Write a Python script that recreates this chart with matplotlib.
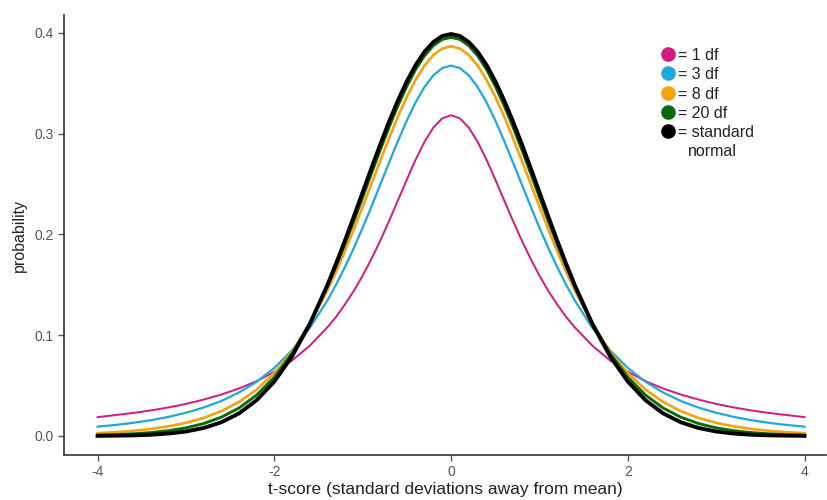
import matplotlib
matplotlib.use("Agg")
import matplotlib.pyplot as plt

plt.rcParams['axes.unicode_minus'] = False
plt.rcParams['font.family'] = ['Liberation Sans', 'DejaVu Sans']

x = [-4.0, -3.8, -3.6, -3.4, -3.2, -3.0, -2.8, -2.6, -2.4, -2.2, -2.0, -1.8, -1.6, -1.4,
     -1.3, -1.2, -1.1, -1.0, -0.9, -0.8, -0.7, -0.6, -0.5, -0.4, -0.3, -0.2, -0.1, 0.0,
     0.1, 0.2, 0.3, 0.4, 0.5, 0.6, 0.7, 0.8, 0.9, 1.0, 1.1, 1.2, 1.3,
     1.4, 1.6, 1.8, 2.0, 2.2, 2.4, 2.6, 2.8, 3.0, 3.2, 3.4, 3.6, 3.8, 4.0]

df1 = [0.0187, 0.0207, 0.0228, 0.0253, 0.0283, 0.0318, 0.0361, 0.0411, 0.0471, 0.0544, 0.0637, 0.0749, 0.0895, 0.1078,
       0.1183, 0.1307, 0.1440, 0.1592, 0.1759, 0.1941, 0.2136, 0.2341, 0.2546, 0.2744, 0.2920, 0.3061, 0.3152, 0.3183,
       0.3152, 0.3061, 0.2920, 0.2744, 0.2546, 0.2341, 0.2136, 0.1941, 0.1759, 0.1592, 0.1440, 0.1307, 0.1183,
       0.1078, 0.0895, 0.0749, 0.0637, 0.0544, 0.0471, 0.0411, 0.0361, 0.0318, 0.0283, 0.0253, 0.0228, 0.0207, 0.0187]
df3 = [0.0092, 0.0109, 0.0130, 0.0156, 0.0189, 0.0230, 0.0282, 0.0347, 0.0431, 0.0538, 0.0675, 0.0850, 0.1070, 0.1345,
       0.1504, 0.1678, 0.1866, 0.2067, 0.2279, 0.2497, 0.2716, 0.2930, 0.3132, 0.3313, 0.3465, 0.3579, 0.3651, 0.3676,
       0.3651, 0.3579, 0.3465, 0.3313, 0.3132, 0.2930, 0.2716, 0.2497, 0.2279, 0.2067, 0.1866, 0.1678, 0.1504,
       0.1345, 0.1070, 0.0850, 0.0675, 0.0538, 0.0431, 0.0347, 0.0282, 0.0230, 0.0189, 0.0156, 0.0130, 0.0109, 0.0092]
df8 = [0.0028, 0.0037, 0.0051, 0.0069, 0.0095, 0.0130, 0.0179, 0.0246, 0.0337, 0.0460, 0.0624, 0.0837, 0.1109, 0.1443,
       0.1632, 0.1836, 0.2052, 0.2276, 0.2505, 0.2735, 0.2959, 0.3172, 0.3367, 0.3537, 0.3677, 0.3781, 0.3845, 0.3867,
       0.3845, 0.3781, 0.3677, 0.3537, 0.3367, 0.3172, 0.2959, 0.2735, 0.2505, 0.2276, 0.2052, 0.1836, 0.1632,
       0.1443, 0.1109, 0.0837, 0.0624, 0.0460, 0.0337, 0.0246, 0.0179, 0.0130, 0.0095, 0.0069, 0.0051, 0.0037, 0.0028]
df20 = [0.0008, 0.0013, 0.0021, 0.0033, 0.0052, 0.0080, 0.0123, 0.0186, 0.0277, 0.0406, 0.0583, 0.0818, 0.1117, 0.1482,
        0.1688, 0.1907, 0.2135, 0.2370, 0.2608, 0.2842, 0.3068, 0.3281, 0.3472, 0.3639, 0.3774, 0.3874, 0.3936, 0.3956,
        0.3936, 0.3874, 0.3774, 0.3639, 0.3472, 0.3281, 0.3068, 0.2842, 0.2608, 0.2370, 0.2135, 0.1907, 0.1688,
        0.1482, 0.1117, 0.0818, 0.0583, 0.0406, 0.0277, 0.0186, 0.0123, 0.0080, 0.0052, 0.0033, 0.0021, 0.0013, 0.0008]
normal = [0.0001, 0.0003, 0.0006, 0.0012, 0.0024, 0.0044, 0.0079, 0.0136, 0.0224, 0.0355, 0.0540, 0.0790, 0.1109, 0.1497,
          0.1714, 0.1942, 0.2179, 0.2420, 0.2661, 0.2897, 0.3123, 0.3332, 0.3521, 0.3683, 0.3814, 0.3910, 0.3970, 0.3989,
          0.3970, 0.3910, 0.3814, 0.3683, 0.3521, 0.3332, 0.3123, 0.2897, 0.2661, 0.2420, 0.2179, 0.1942, 0.1714,
          0.1497, 0.1109, 0.0790, 0.0540, 0.0355, 0.0224, 0.0136, 0.0079, 0.0044, 0.0024, 0.0012, 0.0006, 0.0003, 0.0001]

labels = ["= 1 df", "= 3 df", "= 8 df", "= 20 df", "= standard"]
label_extra = "normal"
series = [df1, df3, df8, df20, normal]
colors = ["#d4197f", "#1fa8dc", "#f7a20c", "#0b6b0b", "#000000"]
widths = [1.4, 1.6, 1.9, 2.1, 2.8]

x_ticks = [-4, -2, 0, 2, 4]
y_ticks = [0.0, 0.1, 0.2, 0.3, 0.4]

fig = plt.figure(figsize=(8.28, 5.0), dpi=100)
ax = fig.add_axes([0.0773, 0.09, 0.92, 0.88])

for ys, c, w in zip(series, colors, widths):
    ax.plot(x, ys, color=c, lw=w, solid_joinstyle='round')

ax.set_xlim(-4.38, 4.24)
ax.set_ylim(-0.0189, 0.4178)
ax.set_xticks(x_ticks)
ax.set_xticklabels([str(t) for t in x_ticks])
ax.set_yticks(y_ticks)
ax.set_yticklabels([f"{t:.1f}" for t in y_ticks])

for s in ['top', 'right']:
    ax.spines[s].set_visible(False)
for s in ['left', 'bottom']:
    ax.spines[s].set_color('#333333')
    ax.spines[s].set_linewidth(1.2)
ax.tick_params(direction='out', length=4, width=1.0, color='#555555',
               labelcolor='#555555', labelsize=10)

ax.set_xlabel("t-score (standard deviations away from mean)", fontsize=12.5, color='#222222', labelpad=2)
ax.set_ylabel("probability", fontsize=11.5, color='#222222', labelpad=5)

# manual legend (pixel rows converted to axes fractions)
ax_left_px, ax_w_px, ax_top_px, ax_h_px = 64.0, 761.8, 15.0, 440.0
mx = (668 - ax_left_px) / ax_w_px
tx = (678 - ax_left_px) / ax_w_px
rows_px = [54, 73, 93, 112, 131]
for lab, c, r in zip(labels, colors, rows_px):
    yy = 1 - (r - ax_top_px) / ax_h_px
    ax.plot([mx], [yy], marker='o', markersize=9.5, color=c, transform=ax.transAxes,
            clip_on=False, linestyle='none')
    ax.text(tx, yy, lab, transform=ax.transAxes, fontsize=11.5, color='#222222',
            va='center_baseline', ha='left')
yy = 1 - (150 - ax_top_px) / ax_h_px
ax.text((688 - ax_left_px) / ax_w_px, yy, label_extra, transform=ax.transAxes,
        fontsize=11.5, color='#222222', va='center_baseline', ha='left')

fig.savefig("out.png", dpi=100)
